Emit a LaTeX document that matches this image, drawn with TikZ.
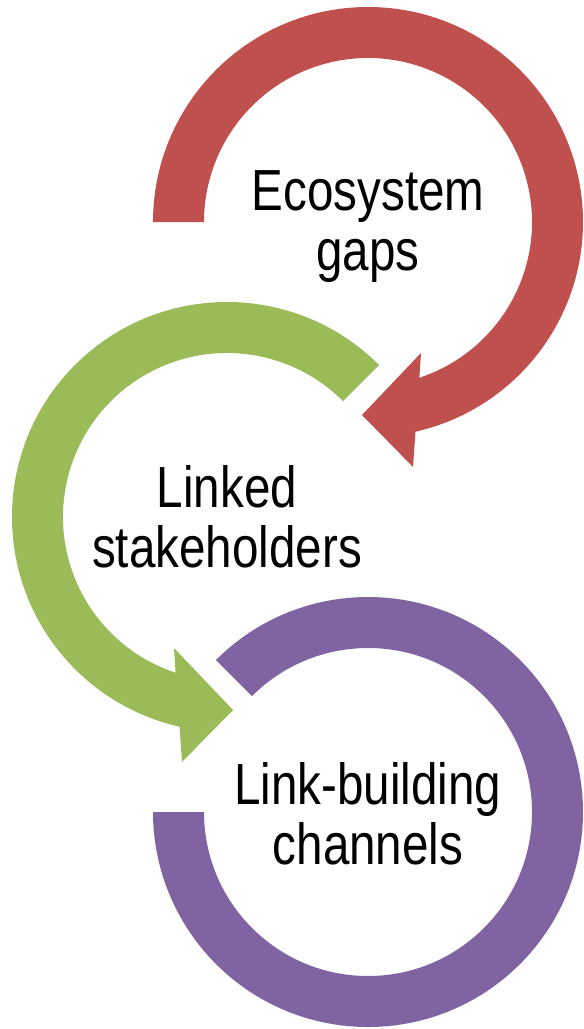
\documentclass[tikz,border=0pt]{standalone}
\usepackage{fontspec}
\setmainfont{Liberation Sans}[FakeStretch=0.82]
\usepackage{xcolor}
\usepackage{tikz}
\definecolor{gapred}{HTML}{C0504D}
\definecolor{stakegreen}{HTML}{9BBB59}
\definecolor{chanpurple}{HTML}{8064A2}

\begin{document}
\begin{tikzpicture}[lbl/.style={align=center,font=\fontsize{58}{60}\selectfont}]
            \useasboundingbox (0,0) rectangle (584pt,-1029pt);

            \coordinate (rc) at (368pt,-222pt);
            \coordinate (gc) at (227pt,-517pt);
            \coordinate (pc) at (368pt,-812pt);

            % red ring, clockwise, head at the bottom right
            \fill[gapred,shift={(rc)}] (180:215pt) arc[start angle=180,end angle=-77.24,radius=215pt]
                -- (-79.59:249.1pt) -- (-91.78:193.1pt) -- (-67.97:141.3pt)
                -- (-71.74:164pt) arc[start angle=-71.74,end angle=180,radius=164pt] -- cycle;
            % green ring, anticlockwise
            \fill[stakegreen,shift={(gc)}] (45:215pt) arc[start angle=45,end angle=257.24,radius=215pt]
                -- (259.59:249.1pt) -- (271.78:193.1pt) -- (247.97:141.3pt)
                -- (251.74:164pt) arc[start angle=251.74,end angle=45,radius=164pt] -- cycle;
            % purple ring, no head
            \fill[chanpurple,shift={(pc)}] (135:215pt) arc[start angle=135,end angle=-180,radius=215pt]
                -- (-180:164pt) arc[start angle=-180,end angle=135,radius=164pt] -- cycle;

            \node[lbl,yshift=-5pt] (gaps) at (rc) {Ecosystem\\gaps};
            \node[lbl] (stake) at (gc) {Linked\\stakeholders};
            \node[lbl,yshift=-2pt] (chan) at (pc) {Link-building\\channels};

\end{tikzpicture}
\end{document}
